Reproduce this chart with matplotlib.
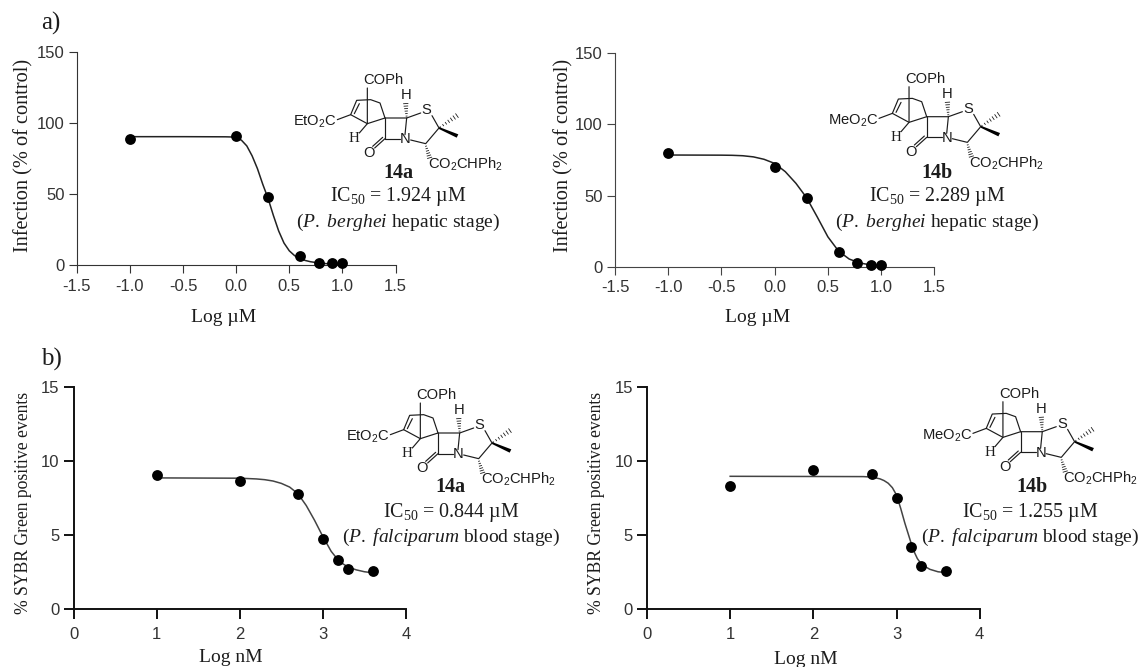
import matplotlib
matplotlib.use("Agg")
import matplotlib.pyplot as plt
from matplotlib.patches import Polygon

plt.rcParams["font.family"] = ["Liberation Serif", "DejaVu Sans"]
plt.rcParams["mathtext.fontset"] = "custom"
plt.rcParams["mathtext.rm"] = "Liberation Serif"
plt.rcParams["mathtext.it"] = "Liberation Serif:italic"
plt.rcParams["mathtext.bf"] = "Liberation Serif:bold"

W, H = 1142, 667
INK = "#1c1c1c"

# ── Data ───────────────────────────────────────────────────────────────────────

log_um = [-1.0, 0.0, 0.301, 0.602, 0.778, 0.903, 1.0]
log_nm = [1.0, 2.0, 2.7, 3.0, 3.18, 3.3, 3.6]

infection_14a = [88.6, 91.0, 48.0, 6.0, 1.6, 1.6, 1.4]
infection_14b = [80.0, 70.0, 48.5, 10.5, 2.8, 1.2, 1.2]
sybr_14a = [9.07, 8.64, 7.8, 4.76, 3.3, 2.73, 2.6]
sybr_14b = [8.34, 9.37, 9.15, 7.52, 4.2, 2.87, 2.53]

# fitted curves
fit_x_14a_um = [-1.0, -0.5, -0.1, -0.05, 0.0, 0.05, 0.1, 0.15, 0.2, 0.25, 0.3, 0.35, 0.4, 0.45, 0.5, 0.55, 0.6, 0.65, 0.7, 0.8, 0.9, 1.0]
fit_y_14a_um = [90.5, 90.5, 90.4, 90.3, 90.0, 88.0, 84.0, 77.0, 68.0, 57.0, 47.0, 35.0, 24.0, 15.5, 10.0, 6.6, 4.5, 3.2, 2.3, 1.2, 0.7, 0.5]
fit_x_14b_um = [-1.0, -0.5, -0.4, -0.3, -0.2, -0.1, 0.0, 0.1, 0.2, 0.3, 0.4, 0.5, 0.6, 0.7, 0.8, 0.9, 1.0]
fit_y_14b_um = [78.5, 78.4, 78.3, 78.0, 77.2, 75.5, 72.6, 66.8, 58.6, 48.5, 35.0, 21.0, 11.0, 5.4, 2.6, 1.3, 0.7]
fit_x_14a_nm = [1.0, 2.0, 2.2, 2.3, 2.4, 2.5, 2.6, 2.7, 2.8, 2.9, 3.0, 3.1, 3.2, 3.3, 3.4, 3.5, 3.6]
fit_y_14a_nm = [8.87, 8.85, 8.8, 8.75, 8.66, 8.5, 8.25, 7.8, 7.0, 6.0, 4.9, 3.9, 3.2, 2.85, 2.65, 2.52, 2.45]
fit_x_14b_nm = [1.0, 2.6, 2.7, 2.8, 2.85, 2.9, 2.95, 3.0, 3.05, 3.1, 3.15, 3.2, 3.25, 3.3, 3.4, 3.5, 3.6]
fit_y_14b_nm = [8.97, 8.95, 8.92, 8.8, 8.68, 8.5, 8.2, 7.7, 6.8, 5.8, 4.9, 4.0, 3.4, 3.0, 2.67, 2.5, 2.45]

um_ticks = [-1.5, -1.0, -0.5, 0.0, 0.5, 1.0, 1.5]
nm_ticks = [0, 1, 2, 3, 4]
infection_ticks = [0, 50, 100, 150]
sybr_ticks = [0, 5, 10, 15]


# ── Helpers ────────────────────────────────────────────────────────────────────

def draw_panel(fig, box, xs, ys, fit_x, fit_y, xticks, yticks, xfmt, line_w, line_col, fit_col, tick_len, x_pad):
    """box is left, right, top, bottom of the axis frame in image pixels."""
    l, r, t, b = box
    ax = fig.add_axes([l / W, 1 - b / H, (r - l) / W, (b - t) / H])
    ax.patch.set_alpha(0)
    ax.plot(fit_x, fit_y, color=fit_col, lw=1.1, clip_on=False, zorder=3)
    ax.plot(xs, ys, "o", color="black", ms=7.8, clip_on=False, zorder=4, mec="none")
    ax.set_xlim(xticks[0], xticks[-1])
    ax.set_ylim(yticks[0], yticks[-1])
    ax.set_xticks(xticks)
    ax.set_yticks(yticks)
    ax.set_xticklabels([xfmt.format(v) for v in xticks])
    ax.set_yticklabels([str(v) for v in yticks])
    ax.tick_params(length=tick_len, width=line_w, color=line_col, labelcolor="#333333", pad=3)
    ax.tick_params(axis="x", pad=x_pad)
    for label in ax.get_xticklabels() + ax.get_yticklabels():
        label.set_fontfamily("Liberation Sans")
        label.set_fontsize(12)
    ax.spines["top"].set_visible(False)
    ax.spines["right"].set_visible(False)
    for side in ("left", "bottom"):
        ax.spines[side].set_linewidth(line_w)
        ax.spines[side].set_color(line_col)
    return ax


def draw_structure(ax, sx, sy, ester, name, name_xy):
    """Scheme of the spiro compound, anchored on the spiro carbon (sx, sy)."""
    def p(x, y):
        return sx + (x - 375) / 3, sy + (y - 145) / 3

    bonds = [
        [(232, 150), (272, 135), (290, 92), (332, 90), (360, 100), (375, 145)],
        [(283, 132), (298, 102)],
        [(272, 135), (322, 162), (375, 145)],
        [(322, 55), (322, 162), (298, 190)],
        [(375, 145), (440, 145), (435, 195)],
        [(375, 145), (375, 207), (420, 207)],
        [(440, 145), (482, 130)],
        [(516, 138), (537, 175), (497, 222), (452, 211)],
        [(375, 207), (344, 235)],
        [(368, 203), (338, 230)],
    ]
    for bond in bonds:
        pts = [p(*q) for q in bond]
        ax.plot([q[0] for q in pts], [q[1] for q in pts], color=INK, lw=0.85,
                solid_capstyle="round", solid_joinstyle="round")

    # wedge and hashed bonds
    ax.add_patch(Polygon([p(537, 172), p(537, 178), p(590, 204), p(595, 194)], closed=True,
                         color="black", lw=0))
    for start, end, n, w in [((440, 143), (437, 98), 6, 6), ((537, 175), (595, 135), 7, 6),
                             ((497, 226), (510, 268), 6, 6)]:
        dx, dy = end[0] - start[0], end[1] - start[1]
        size = (dx * dx + dy * dy) ** 0.5
        nx, ny = -dy / size, dx / size
        for i in range(n):
            f = (i + 0.5) / n
            cx, cy = start[0] + dx * f, start[1] + dy * f
            half = 1 + w * f
            a = p(cx - nx * half, cy - ny * half)
            c = p(cx + nx * half, cy + ny * half)
            ax.plot([a[0], c[0]], [a[1], c[1]], color=INK, lw=0.6)

    sans = dict(family="Liberation Sans", fontsize=10.6, color=INK, va="center")
    ax.text(*p(310, 32), "COPh", ha="left", **sans)
    ax.text(*p(437, 76), "H", ha="center", **sans)
    ax.text(*p(500, 122), "S", ha="center", **sans)
    ax.text(*p(436, 208), "N", ha="center", **sans)
    ax.text(*p(328, 250), "O", ha="center", **sans)
    ax.text(*p(230, 158), ester + r"O$_\mathdefault{2}$C", ha="right", **sans)
    ax.text(*p(503, 284), r"CO$_\mathdefault{2}$CHPh$_\mathdefault{2}$", ha="left", **sans)
    ax.text(*p(283, 206), "H", ha="center", family="Liberation Serif", fontsize=10.8, color=INK, va="center")
    ax.text(*name_xy, name, ha="center", va="center", fontsize=14.5, fontweight="bold", color=INK)


def caption(ax, x, y0, y1, ic50, stage_it, stage_rest):
    ax.text(x, y0, "IC$_{50}$ = " + ic50 + " µM", ha="center", va="center", fontsize=14.4, color=INK)
    ax.text(x, y1, "($\\mathit{" + stage_it + "}$ " + stage_rest + ")", ha="center", va="center",
            fontsize=14, color=INK)


# ── Figure ─────────────────────────────────────────────────────────────────────

fig = plt.figure(figsize=(W / 100, H / 100), dpi=100, facecolor="white")

draw_panel(fig, (76.7, 395.6, 52.3, 265), log_um, infection_14a, fit_x_14a_um, fit_y_14a_um,
           um_ticks, infection_ticks, "{:.1f}", 0.8, "#333333", "#222222", 5.8, 4)
draw_panel(fig, (615, 934.3, 53.3, 266.7), log_um, infection_14b, fit_x_14b_um, fit_y_14b_um,
           um_ticks, infection_ticks, "{:.1f}", 0.8, "#444444", "#222222", 5.8, 4)
draw_panel(fig, (73.5, 406, 387.3, 609), log_nm, sybr_14a, fit_x_14a_nm, fit_y_14a_nm,
           nm_ticks, sybr_ticks, "{:d}", 1.4, "#111111", "#444444", 7, 6)
draw_panel(fig, (647, 979.7, 387.3, 608.7), log_nm, sybr_14b, fit_x_14b_nm, fit_y_14b_nm,
           nm_ticks, sybr_ticks, "{:d}", 1.4, "#111111", "#444444", 7, 6)

# overlay in image pixels for labels and the chemical schemes
top = fig.add_axes([0, 0, 1, 1], zorder=10)
top.set_xlim(0, W)
top.set_ylim(H, 0)
top.axis("off")

top.text(41, 23, "a)", fontsize=18, color=INK, ha="left", va="center")
top.text(41, 359, "b)", fontsize=18, color=INK, ha="left", va="center")

for x, y, s in [(224, 317, "Log µM"), (758, 317, "Log µM"), (231, 658, "Log nM"), (806, 660, "Log nM")]:
    top.text(x, y, s, fontsize=14, color=INK, ha="center", va="center")
for x, y, s, size in [(24, 155, "Infection (% of control)", 14.6), (564, 155, "Infection (% of control)", 14.6),
                      (23.5, 502.5, "% SYBR Green positive events", 12.7),
                      (596.5, 502.5, "% SYBR Green positive events", 12.7)]:
    top.text(x, y, s, fontsize=size, color=INK, rotation=90, ha="center", va="center")

draw_structure(top, 385, 118, "Et", "14a", (398, 173))
draw_structure(top, 926.7, 116.7, "Me", "14b", (937, 173))
draw_structure(top, 438, 433, "Et", "14a", (450, 487))
draw_structure(top, 1020.6, 431.7, "Me", "14b", (1031.5, 487))

caption(top, 398, 197, 222, "1.924", r"P.\ berghei", "hepatic stage")
caption(top, 937, 197, 222, "2.289", r"P.\ berghei", "hepatic stage")
caption(top, 451, 512, 537, "0.844", r"P.\ falciparum", "blood stage")
caption(top, 1030, 512, 537, "1.255", r"P.\ falciparum", "blood stage")

fig.savefig("out.png", dpi=100)
plt.close(fig)
